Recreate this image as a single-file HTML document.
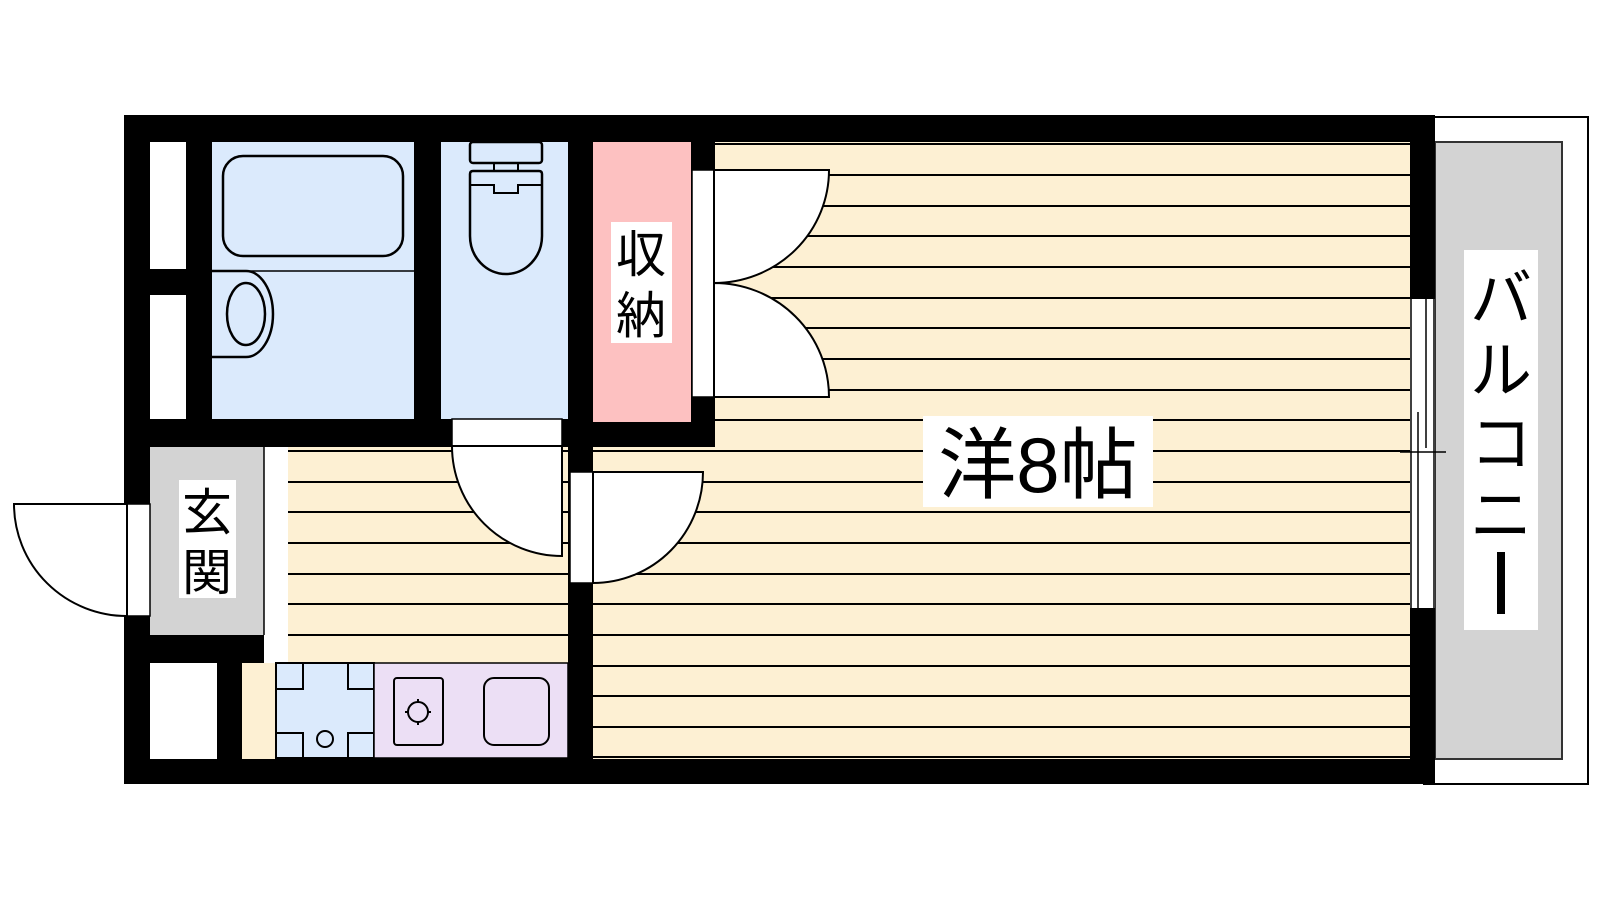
<!DOCTYPE html>
<html><head><meta charset="utf-8"><style>
html,body{margin:0;padding:0;background:#fff;}
svg{display:block;}
text{font-family:"Liberation Sans","Noto Sans CJK JP",sans-serif;fill:#000;}
</style></head><body>
<svg width="1600" height="900" viewBox="0 0 1600 900" xmlns="http://www.w3.org/2000/svg">
<!-- balcony -->
<rect x="1424" y="117" width="164" height="667" fill="#fff" stroke="#000" stroke-width="2"/>
<rect x="1435" y="142" width="127" height="617" fill="#d3d3d3" stroke="#333" stroke-width="2"/>
<rect x="1464" y="250" width="74" height="380" fill="#fff"/>
<text x="1501" y="320" font-size="62" text-anchor="middle">バ</text>
<text x="1501" y="392" font-size="62" text-anchor="middle">ル</text>
<text x="1501" y="465" font-size="62" text-anchor="middle">コ</text>
<text x="1501" y="537" font-size="62" text-anchor="middle">ニ</text>
<rect x="1497" y="552" width="8" height="62" fill="#000"/>
<!-- outer wall -->
<rect x="124" y="115" width="1311" height="669" fill="#000"/>
<!-- main room floor -->
<rect x="715" y="142" width="695" height="305" fill="#fdf0d3"/>
<rect x="593" y="447" width="817" height="312" fill="#fdf0d3"/>
<rect x="288" y="446" width="280" height="217" fill="#fdf0d3"/>
<g stroke="#000" stroke-width="2">
<line x1="715" y1="144" x2="1410" y2="144"/>
<line x1="715" y1="175" x2="1410" y2="175"/>
<line x1="715" y1="206" x2="1410" y2="206"/>
<line x1="715" y1="236" x2="1410" y2="236"/>
<line x1="715" y1="267" x2="1410" y2="267"/>
<line x1="715" y1="298" x2="1410" y2="298"/>
<line x1="715" y1="328" x2="1410" y2="328"/>
<line x1="715" y1="359" x2="1410" y2="359"/>
<line x1="715" y1="390" x2="1410" y2="390"/>
<line x1="715" y1="420" x2="1410" y2="420"/>
<line x1="288" y1="451" x2="1410" y2="451"/>
<line x1="288" y1="482" x2="1410" y2="482"/>
<line x1="288" y1="512" x2="1410" y2="512"/>
<line x1="288" y1="543" x2="1410" y2="543"/>
<line x1="288" y1="574" x2="1410" y2="574"/>
<line x1="288" y1="604" x2="1410" y2="604"/>
<line x1="288" y1="635" x2="1410" y2="635"/>
<line x1="593" y1="666" x2="1410" y2="666"/>
<line x1="593" y1="696" x2="1410" y2="696"/>
<line x1="593" y1="727" x2="1410" y2="727"/>
<line x1="593" y1="757" x2="1410" y2="757"/>
</g>
<!-- wall between kitchen and main -->
<rect x="568" y="419" width="25" height="340" fill="#000"/>
<rect x="124" y="419" width="591" height="28" fill="#000"/>
<!-- left white strips -->
<rect x="150" y="142" width="36" height="127" fill="#fff"/>
<rect x="150" y="295" width="36" height="124" fill="#fff"/>
<!-- bath -->
<rect x="212" y="142" width="202" height="277" fill="#dbeafc"/>
<rect x="223" y="156" width="180" height="100" rx="20" fill="none" stroke="#000" stroke-width="2.5"/>
<line x1="212" y1="271" x2="414" y2="271" stroke="#000" stroke-width="1.5"/>
<path d="M212 271 H246 A27 43 0 0 1 246 357 H212" fill="none" stroke="#000" stroke-width="2.5"/>
<ellipse cx="246" cy="314" rx="19" ry="31" fill="none" stroke="#000" stroke-width="2.5"/>
<!-- toilet -->
<rect x="441" y="142" width="127" height="277" fill="#dbeafc"/>
<rect x="470" y="142" width="72" height="21" rx="3" fill="none" stroke="#000" stroke-width="2.5"/>
<rect x="494" y="163" width="24" height="8" fill="none" stroke="#000" stroke-width="2"/>
<path d="M470 174 Q470 171 473 171 H539 Q542 171 542 174 V236 A36 38 0 0 1 470 236 Z" fill="none" stroke="#000" stroke-width="2.5"/>
<path d="M470 185 H494 V193 H518 V185 H542" fill="none" stroke="#000" stroke-width="2"/>
<!-- toilet door -->
<rect x="452" y="419" width="110" height="27" fill="#fff" stroke="#000" stroke-width="1.5"/>
<path d="M562 446 V556 A110 110 0 0 1 452 446 Z" fill="#fff" stroke="#000" stroke-width="2"/>
<!-- storage -->
<rect x="593" y="142" width="98" height="280" fill="#fdc1c1"/>
<rect x="611" y="222" width="61" height="121" fill="#fff"/>
<text x="641" y="272" font-size="50" text-anchor="middle">収</text>
<text x="641" y="333" font-size="50" text-anchor="middle">納</text>
<!-- storage doors -->
<rect x="692" y="170" width="22" height="227" fill="#fff" stroke="#000" stroke-width="1.5"/>
<path d="M714 170 H829 A115 113 0 0 1 714 283 Z" fill="#fff" stroke="#000" stroke-width="2"/>
<path d="M714 283 A115 114 0 0 1 829 397 H714 Z" fill="#fff" stroke="#000" stroke-width="2"/>
<!-- room door -->
<rect x="570" y="472" width="23" height="111" fill="#fff" stroke="#000" stroke-width="1.5"/>
<path d="M593 472 H703 A110 111 0 0 1 593 583 Z" fill="#fff" stroke="#000" stroke-width="2"/>
<!-- genkan -->
<rect x="150" y="447" width="114" height="188" fill="#d3d3d3"/>
<rect x="264" y="447" width="24" height="216" fill="#fff"/>
<line x1="264" y1="447" x2="264" y2="635" stroke="#000" stroke-width="1.5"/>
<rect x="179" y="480" width="57" height="118" fill="#fff"/>
<text x="207" y="530" font-size="50" text-anchor="middle">玄</text>
<text x="207" y="590" font-size="50" text-anchor="middle">関</text>
<rect x="127" y="504" width="23" height="112" fill="#fff" stroke="#000" stroke-width="1.5"/>
<path d="M127 504 H14 A113 112 0 0 0 127 616 Z" fill="#fff" stroke="#000" stroke-width="2"/>
<!-- lower left -->
<rect x="150" y="663" width="67" height="96" fill="#fff"/>
<rect x="242" y="663" width="34" height="96" fill="#fdf0d3"/>
<!-- sink -->
<rect x="276" y="663" width="98" height="95" fill="#dbeafc" stroke="#000" stroke-width="2"/>
<path d="M276 689 H303 V663 M348 663 V689 H374 M276 733 H303 V758 M348 758 V733 H374" fill="none" stroke="#000" stroke-width="2"/>
<circle cx="325" cy="739" r="8" fill="none" stroke="#000" stroke-width="2"/>
<!-- stove -->
<rect x="374" y="663" width="194" height="95" fill="#ecdff5" stroke="#000" stroke-width="1.5"/>
<rect x="394" y="678" width="49" height="67" rx="3" fill="none" stroke="#000" stroke-width="2"/>
<circle cx="418" cy="712" r="10" fill="none" stroke="#000" stroke-width="2"/>
<path d="M418 699 V703 M418 721 V725 M405 712 H409 M427 712 H431" stroke="#000" stroke-width="2"/>
<rect x="484" y="678" width="65" height="67" rx="10" fill="none" stroke="#000" stroke-width="2"/>
<!-- balcony window -->
<rect x="1410" y="299" width="25" height="309" fill="#fff"/>
<g stroke="#000" stroke-width="1.5">
<line x1="1411" y1="299" x2="1411" y2="608"/>
<line x1="1418" y1="412" x2="1418" y2="608"/>
<line x1="1426" y1="299" x2="1426" y2="448"/>
<line x1="1434" y1="299" x2="1434" y2="608"/>
<line x1="1400" y1="452" x2="1446" y2="452"/>
</g>
<!-- main label -->
<rect x="923" y="416" width="230" height="91" fill="#fff"/>
<text x="1038" y="492" font-size="78" text-anchor="middle">洋8帖</text>
</svg>
</body></html>
